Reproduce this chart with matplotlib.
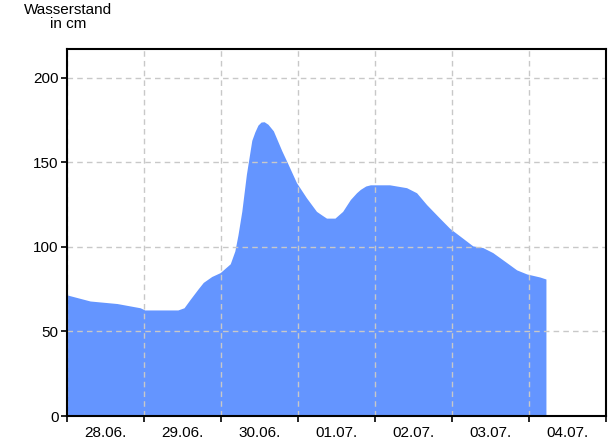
import numpy as np
import matplotlib.pyplot as plt
from matplotlib.ticker import FixedLocator, NullFormatter, FixedFormatter

plt.rcParams['font.family'] = ['Liberation Sans', 'DejaVu Sans']

# days since 28.06. 00:00
days = [0.00, 0.30, 0.65, 0.95, 1.01, 1.44, 1.52, 1.60, 1.70, 1.77, 1.88, 1.99,
        2.12, 2.18, 2.22, 2.27, 2.33, 2.40, 2.44, 2.48, 2.52, 2.56, 2.61, 2.68,
        2.79, 2.87, 2.98, 3.11, 3.24, 3.32, 3.37, 3.48, 3.58, 3.68, 3.76, 3.81,
        3.88, 3.94, 4.19, 4.41, 4.54, 4.67, 4.84, 4.97, 5.10, 5.27, 5.40, 5.53,
        5.71, 5.84, 5.97, 6.14, 6.22]
level = [71.6, 68, 66.5, 64, 62.7, 62.7, 64, 69, 75, 79, 82.5, 84.8,
         90, 97.6, 107, 121, 143, 163, 168, 172, 173.8, 174, 172.5, 168.6,
         156.8, 149, 138, 129, 121, 118.5, 117, 117, 121, 128, 132, 134,
         136, 136.7, 136.7, 135, 132, 125, 117, 111, 106.5, 100.6, 99.6, 96.6,
         90.7, 86.4, 84, 82.2, 81]
day_labels = ["28.06.", "29.06.", "30.06.", "01.07.", "02.07.", "03.07.", "04.07."]
y_ticks = [0, 50, 100, 150, 200]

fig = plt.figure(figsize=(6.12, 4.42), dpi=100)
ax = fig.add_axes([67/612, 26/442, 539/612, 367/442])

ax.fill_between(days, level, 0, color="#6495FF", linewidth=0, zorder=1)

ax.set_xlim(0, 7)
ax.set_ylim(0, 217)

ax.xaxis.set_major_locator(FixedLocator(range(8)))
ax.xaxis.set_major_formatter(NullFormatter())
ax.xaxis.set_minor_locator(FixedLocator(np.arange(len(day_labels)) + 0.5))
ax.xaxis.set_minor_formatter(FixedFormatter(day_labels))
ax.tick_params(axis="x", which="major", length=4, width=1.2, direction="out")
ax.tick_params(axis="x", which="minor", length=0, labelsize=11, pad=7)
ax.set_yticks(y_ticks)
ax.tick_params(axis="y", length=4, width=1.2, direction="out", labelsize=11, pad=2)

ax.grid(True, which="major", color="#c8c8c8", linestyle=(0, (4, 3)), linewidth=1, zorder=2)
ax.set_axisbelow(False)
for s in ax.spines.values():
    s.set_linewidth(1.5)
    s.set_zorder(3)

fig.text(68/612, 1 - 3/442, "Wasserstand\nin cm", ha="center", va="top",
         fontsize=11, linespacing=1.0)

fig.savefig("out.png", dpi=100)
